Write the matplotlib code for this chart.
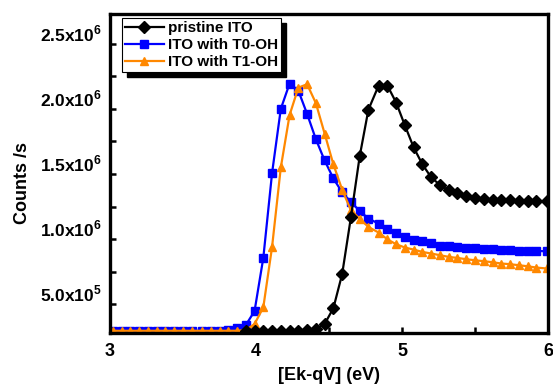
import numpy as np
import matplotlib
matplotlib.use("Agg")
import matplotlib.pyplot as plt
from matplotlib.patches import Rectangle

plt.rcParams['font.family'] = ['Liberation Sans', 'DejaVu Sans']
plt.rcParams['mathtext.fontset'] = 'custom'
plt.rcParams['mathtext.bf'] = 'Liberation Sans:bold'
plt.rcParams['mathtext.rm'] = 'Liberation Sans:bold'

# ---- data ----
energy = [3.02, 3.08, 3.14, 3.20, 3.26, 3.32, 3.38, 3.44, 3.50, 3.56,
          3.63, 3.69, 3.75, 3.81, 3.87, 3.93, 3.99, 4.05, 4.11, 4.17,
          4.23, 4.29, 4.35, 4.41, 4.47, 4.53, 4.59, 4.65, 4.71, 4.77,
          4.84, 4.90, 4.96, 5.02, 5.08, 5.14, 5.20, 5.26, 5.32, 5.38,
          5.44, 5.50, 5.56, 5.62, 5.68, 5.74, 5.80, 5.86, 5.92, 5.99]

pristine_x = energy[15:]
pristine = [0.29e6, 0.29e6, 0.29e6, 0.29e6, 0.29e6, 0.29e6, 0.295e6, 0.30e6,
            0.31e6, 0.347e6, 0.469e6, 0.730e6, 1.167e6, 1.635e6, 1.995e6,
            2.180e6, 2.180e6, 2.049e6, 1.873e6, 1.704e6, 1.574e6, 1.474e6,
            1.416e6, 1.374e6, 1.351e6, 1.328e6, 1.317e6, 1.305e6, 1.301e6,
            1.298e6, 1.298e6, 1.294e6, 1.290e6, 1.290e6, 1.290e6]

t0_oh = [0.295e6] * 13 + [
    0.300e6, 0.316e6, 0.339e6, 0.446e6, 0.855e6, 1.507e6, 2.001e6, 2.195e6,
    2.141e6, 1.962e6, 1.768e6, 1.604e6, 1.466e6, 1.359e6, 1.285e6, 1.216e6,
    1.157e6, 1.119e6, 1.075e6, 1.047e6, 1.016e6, 0.991e6, 0.983e6, 0.966e6,
    0.950e6, 0.945e6, 0.939e6, 0.935e6, 0.929e6, 0.922e6, 0.922e6, 0.919e6,
    0.919e6, 0.912e6, 0.912e6, 0.909e6, 0.906e6]

t1_oh = [0.295e6] * 15 + [
    0.300e6, 0.347e6, 0.475e6, 0.939e6, 1.551e6, 1.953e6, 2.164e6, 2.190e6,
    2.045e6, 1.811e6, 1.574e6, 1.380e6, 1.221e6, 1.157e6, 1.093e6, 1.050e6,
    0.998e6, 0.960e6, 0.935e6, 0.919e6, 0.901e6, 0.889e6, 0.876e6, 0.863e6,
    0.855e6, 0.845e6, 0.837e6, 0.830e6, 0.822e6, 0.812e6, 0.807e6, 0.799e6,
    0.791e6, 0.781e6, 0.774e6]

labels = ["pristine ITO", "ITO with T0-OH", "ITO with T1-OH"]
ytick_vals = [0.5e6, 1.0e6, 1.5e6, 2.0e6, 2.5e6]
ytick_text = ["5.0x10$^{5}$", "1.0x10$^{6}$", "1.5x10$^{6}$", "2.0x10$^{6}$", "2.5x10$^{6}$"]
xticks = [3, 4, 5, 6]

fig = plt.figure(figsize=(5.53, 3.84), dpi=100)
ax = fig.add_axes([110/553, 1-333/384, 438/553, 319/384])

ax.plot(pristine_x, pristine, color='black', lw=1.6, marker='D', ms=6.2, zorder=3, label=labels[0])
ax.plot(energy, t0_oh, color='#0000FF', lw=1.6, marker='s', ms=5.2, zorder=2, label=labels[1])
ax.plot(energy, t1_oh, color='#FF8800', lw=1.6, marker='^', ms=6.2, zorder=2.5, label=labels[2])

ax.set_xlim(3, 6)
ax.set_ylim(0.278e6, 2.73e6)

for s in ax.spines.values():
    s.set_linewidth(2.4)
    s.set_color('black')

ax.set_xticks(xticks)
ax.set_xticklabels([str(v) for v in xticks], fontsize=13, fontweight='bold')
ax.set_xticks([4.5, 5.5], minor=True)
ax.set_yticks(np.arange(0.5e6, 2.51e6, 0.25e6))
ax.set_yticklabels([])
ax.tick_params(axis='both', which='both', direction='in', length=4, width=1.8, pad=7)
ax.tick_params(axis='y', which='both', left=True, right=False)
ax.tick_params(axis='x', which='both', top=False)

for v, t in zip(ytick_vals, ytick_text):
    ax.annotate(t, xy=(0, v), xycoords=('axes fraction', 'data'),
                xytext=(-6, 7), textcoords='offset points',
                ha='right', va='center', fontsize=12.5, fontweight='bold')

ax.set_xlabel("[Ek-qV] (eV)", fontsize=13, fontweight='bold', labelpad=5)
ax.set_ylabel("Counts /s", fontsize=13, fontweight='bold')
ax.yaxis.set_label_coords(-0.18, 0.47)

leg = ax.legend(loc='upper left', bbox_to_anchor=(0.028, 0.988), borderaxespad=0,
                fancybox=False, edgecolor='black', framealpha=1,
                prop={'weight': 'bold', 'size': 11}, handlelength=2.5,
                handletextpad=0.3, labelspacing=0.2, borderpad=0.2)
leg.get_frame().set_linewidth(0.8)
leg.set_zorder(6)

fig.canvas.draw()
bb = leg.get_window_extent()
inv = ax.transAxes.inverted()
(x0, y0) = inv.transform((bb.x0 + 5, bb.y0 - 5))
(x1, y1) = inv.transform((bb.x1 + 5, bb.y1 - 5))
ax.add_patch(Rectangle((x0, y0), x1 - x0, y1 - y0, transform=ax.transAxes,
                       facecolor='black', edgecolor='black', zorder=5.5, clip_on=False))

fig.savefig("out.png", dpi=100)
